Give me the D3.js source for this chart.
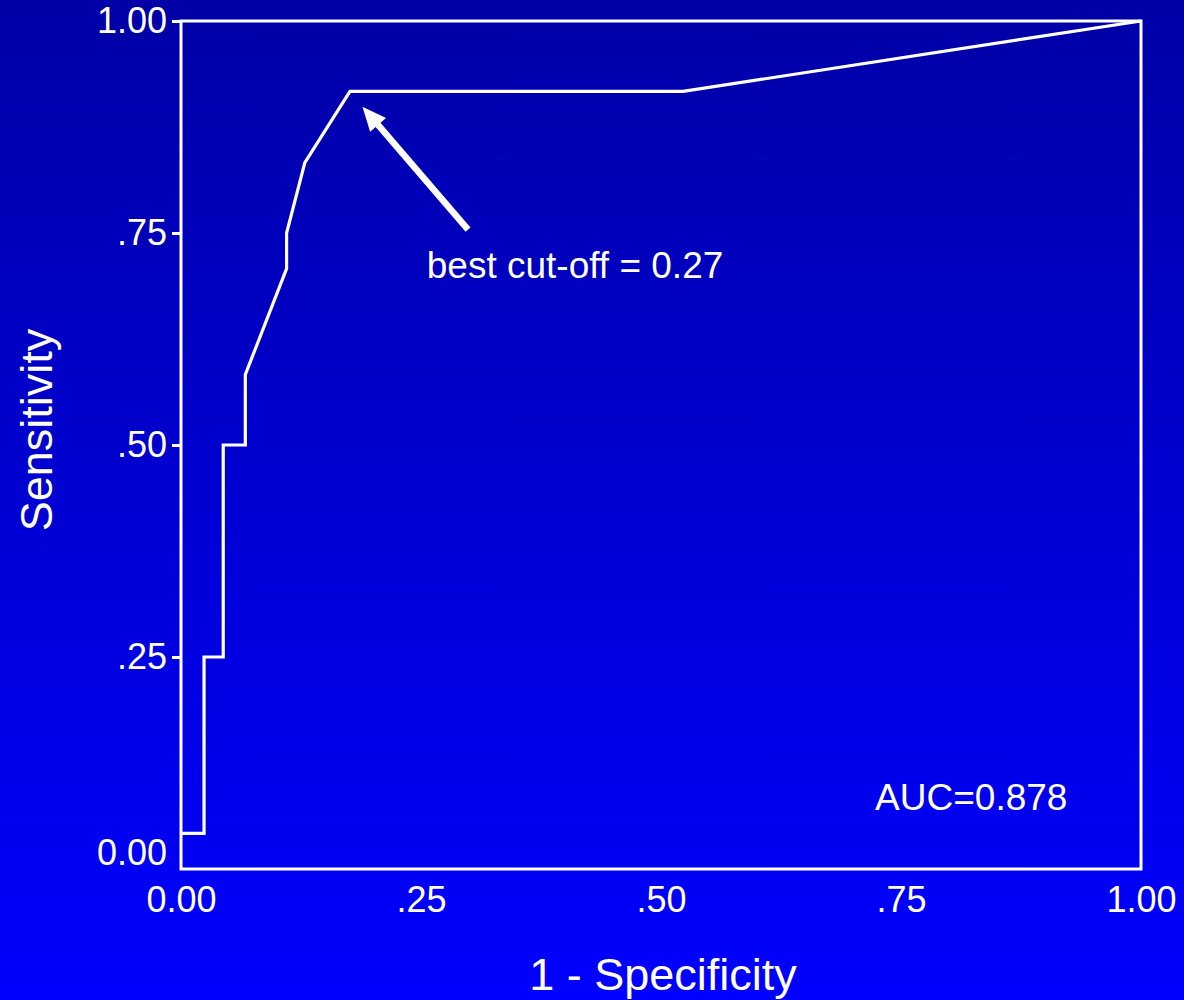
<!DOCTYPE html>
<html>
<head>
<meta charset="utf-8">
<script src="https://cdn.jsdelivr.net/npm/d3@7"></script>
<style>
html,body{margin:0;padding:0;}
svg{display:block;font-family:"Liberation Sans",Arial,sans-serif;}
</style>
</head>
<body>
<svg id="chart" width="1184" height="1000"></svg>
<script>
// ROC curve points
const fpr = [0, 0.024, 0.024, 0.044, 0.044, 0.067, 0.067, 0.110, 0.110, 0.129, 0.176, 0.523, 1.0];
const tpr = [0.042, 0.042, 0.25, 0.25, 0.50, 0.50, 0.583, 0.708, 0.75, 0.833, 0.917, 0.917, 1.0];
const xTicks = [0, 0.25, 0.5, 0.75, 1];
const yTicks = [0, 0.25, 0.5, 0.75, 1];
const xTickLabels = ["0.00", ".25", ".50", ".75", "1.00"];
const yTickLabels = ["0.00", ".25", ".50", ".75", "1.00"];
const annotation = "best cut-off = 0.27";
const aucLabel = "AUC=0.878";
const arrowFrom = [0.299, 0.754];
const arrowTo = [0.189, 0.899];

const svg = d3.select("#chart");
const W = 1184, H = 1000;
const m = {left: 181, right: 43, top: 21, bottom: 131};

const defs = svg.append("defs");
const grad = defs.append("linearGradient").attr("id","bg").attr("x1",0).attr("y1",0).attr("x2",0).attr("y2",1);
grad.append("stop").attr("offset","0%").attr("stop-color","#0000a6");
grad.append("stop").attr("offset","100%").attr("stop-color","#0000ff");
svg.append("rect").attr("width",W).attr("height",H).attr("fill","url(#bg)");

const x = d3.scaleLinear().domain([0,1]).range([m.left, W - m.right]);
const y = d3.scaleLinear().domain([0,1]).range([H - m.bottom, m.top]);

// frame
svg.append("rect")
  .attr("x", x(0)).attr("y", y(1))
  .attr("width", x(1)-x(0)).attr("height", y(0)-y(1))
  .attr("fill","none").attr("stroke","#fff").attr("stroke-width",3);

// y axis
const yAxis = d3.axisLeft(y).tickValues(yTicks)
  .tickFormat((d,i)=>yTickLabels[i]).tickSize(9).tickPadding(5);
const gy = svg.append("g").attr("transform",`translate(${x(0)},0)`).call(yAxis);
gy.select(".domain").remove();
gy.selectAll(".tick line").attr("stroke","#fff").attr("stroke-width",3);
gy.selectAll(".tick").filter(d=>d===0).select("line").remove();
gy.selectAll(".tick text").attr("fill","#fff").attr("font-size",36)
  .attr("font-family","'Liberation Sans',Arial,sans-serif");
gy.selectAll(".tick").filter(d=>d===0).select("text").attr("dy","-0.12em").attr("x",-14);

// x axis
const xAxis = d3.axisBottom(x).tickValues(xTicks)
  .tickFormat((d,i)=>xTickLabels[i]).tickSize(0).tickPadding(17);
const gx = svg.append("g").attr("transform",`translate(0,${y(0)})`).call(xAxis);
gx.select(".domain").remove();
gx.selectAll(".tick text").attr("fill","#fff").attr("font-size",36)
  .attr("font-family","'Liberation Sans',Arial,sans-serif");

// curve
const pts = fpr.map((f,i)=>[f, tpr[i]]);
svg.append("path").datum(pts)
  .attr("d", d3.line().x(d=>x(d[0])).y(d=>y(d[1])))
  .attr("fill","none").attr("stroke","#fff").attr("stroke-width",3.2)
  .attr("stroke-linejoin","miter");

// arrow
const x0 = x(arrowFrom[0]), y0 = y(arrowFrom[1]);
const x1 = x(arrowTo[0]), y1 = y(arrowTo[1]);
const ang = Math.atan2(y1-y0, x1-x0);
const headLen = 24, headW = 10.5;
const bx = x1 - headLen*Math.cos(ang), by = y1 - headLen*Math.sin(ang);
svg.append("line").attr("x1",x0).attr("y1",y0).attr("x2",bx+2*Math.cos(ang)).attr("y2",by+2*Math.sin(ang))
  .attr("stroke","#fff").attr("stroke-width",6.5);
const px = -Math.sin(ang), py = Math.cos(ang);
svg.append("path")
  .attr("d", `M${x1},${y1}L${bx+headW*px},${by+headW*py}L${bx-headW*px},${by-headW*py}Z`)
  .attr("fill","#fff");

// annotations
svg.append("text").attr("x", x(0.256)).attr("y", y(0.697))
  .attr("fill","#fff").attr("font-size",37).text(annotation);
svg.append("text").attr("x", x(0.723)).attr("y", y(0.069))
  .attr("fill","#fff").attr("font-size",37).text(aucLabel);

// axis titles
svg.append("text").attr("x", 663).attr("y", 990)
  .attr("text-anchor","middle").attr("fill","#fff").attr("font-size",45).text("1 - Specificity");
svg.append("text").attr("transform",`translate(52,430) rotate(-90)`)
  .attr("text-anchor","middle").attr("fill","#fff").attr("font-size",45).text("Sensitivity");
</script>
</body>
</html>
